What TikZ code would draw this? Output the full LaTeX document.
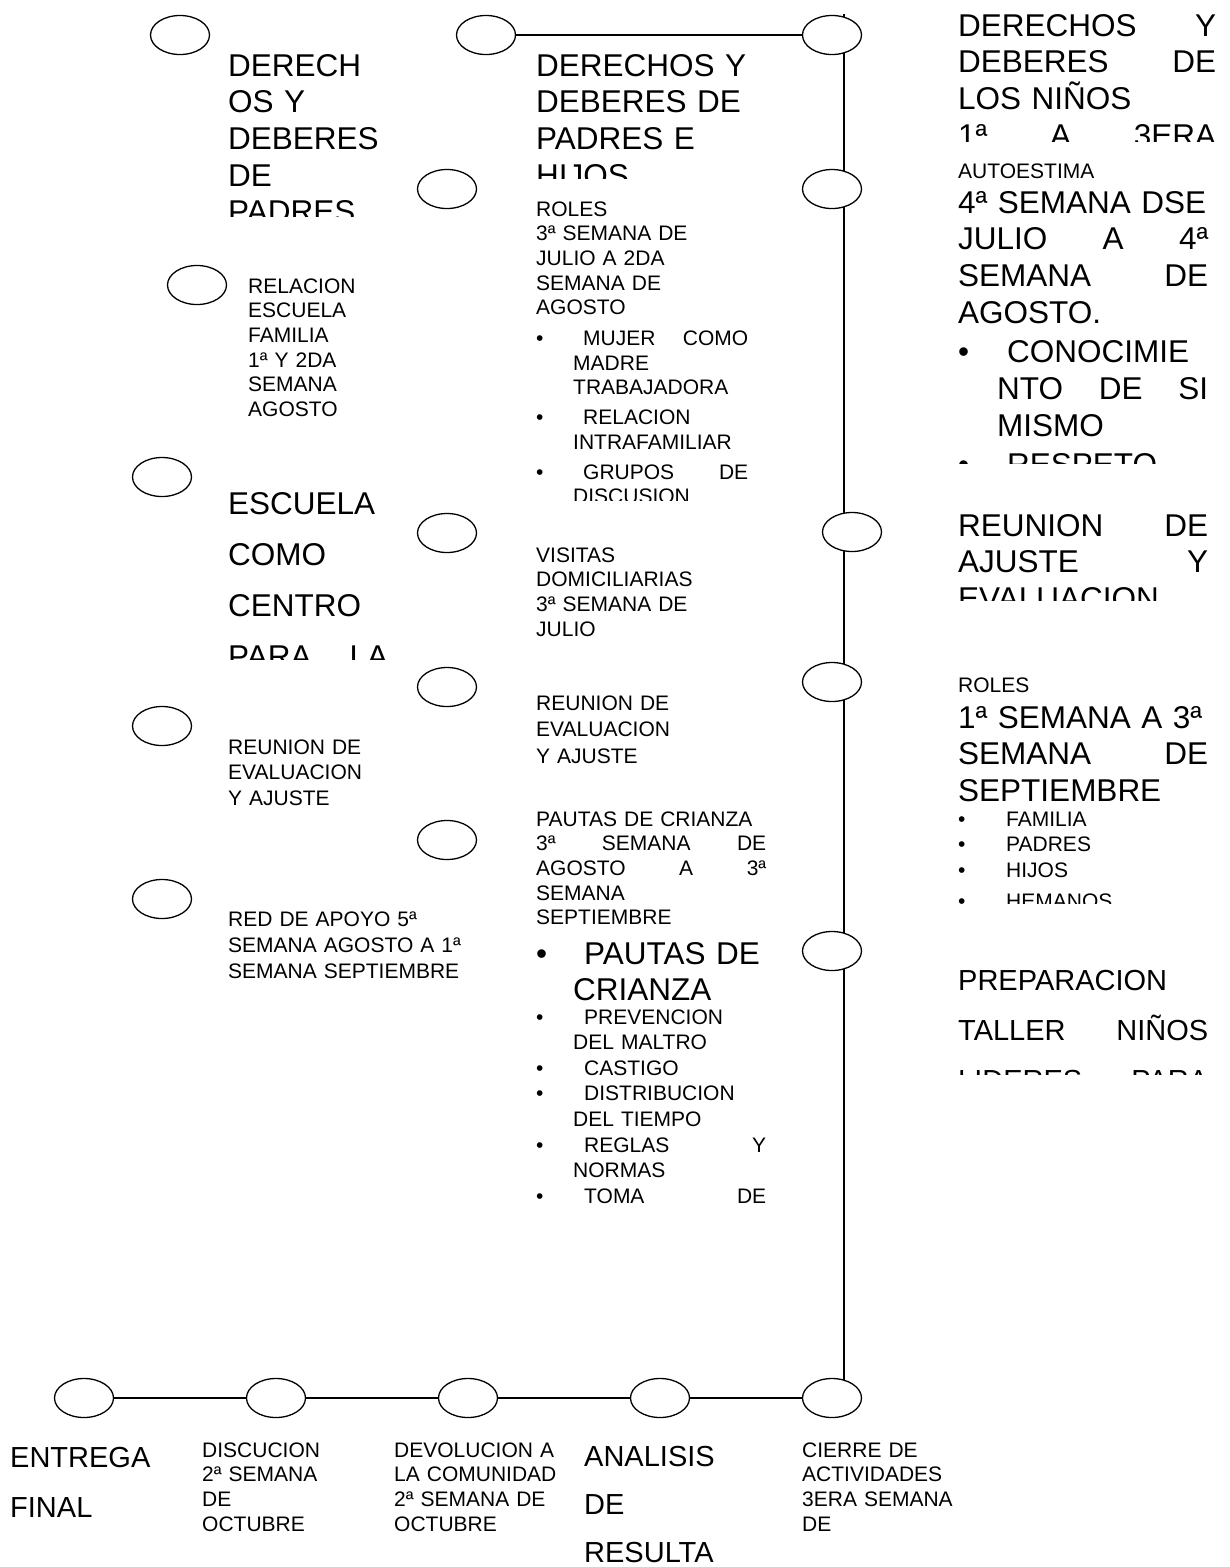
\documentclass[tikz,border=0pt]{standalone}
\usepackage{fontspec}
\setmainfont{Liberation Sans}
\usepackage{tikz}
\usetikzlibrary{shapes.geometric, backgrounds}
\tikzstyle{oval} = [
    ellipse, draw, fill=white,
    line width=1.3pt,
    minimum width=59pt,
    minimum height=39pt,
    inner sep=0pt,
]
\tikzstyle{link} = [line width=1.7pt]
\tikzstyle{txt} = [anchor=base west, inner sep=0pt]
\tikzstyle{smalltext} = [
    txt,
    font={\fontsize{21}{24.7}\selectfont},
]
\tikzstyle{bigtext} = [
    txt,
    font={\fontsize{31.5}{36.7}\selectfont},
]
\tikzstyle{widetext} = [
    txt,
    font={\fontsize{29}{50}\selectfont},
]

\begin{document}
\begin{tikzpicture}[x=1pt, y=-1pt]
    \useasboundingbox (0,0) rectangle (1230,1567);

    % milestones
    \foreach \name/\x/\y in {L1/180/35, L2/197/285, L3/162/477, L4/162/726, L5/162/899,
        M1/486/35, M2/447/189, M3/447/533, M4/447/687, M5/447/840,
        R1/832/35, R2/832/189, R3/852/532, R4/832/682, R5/832/951,
        B1/84/1398, B2/276/1398, B3/468/1398, B4/660/1398, B5/832/1398} {
        \node (\name) at (\x,\y) [oval] {};
    }
    \coordinate (top) at (844,14);

    % lines
    \begin{scope}[on background layer]
        \draw [link] (M1.east) to (R1.west);
        \draw [link] (top) to (top |- B5.center);
        \foreach \x [evaluate=\x as \y using int(\x+1)] in {1,...,4} {
            \draw [link] (B\x.east) to (B\y.west);
        }
    \end{scope}

    % left column
    \begin{scope}
        \clip (220,40) rectangle (420,216);
        \node (padres) at (228,76) [bigtext, text width=200pt] {DERECH\\OS Y\\DEBERES\\DE\\PADRES};
    \end{scope}
    \node (escfam) at (248,293) [smalltext, text width=150pt] {RELACION\\ESCUELA\\FAMILIA\\1ª Y 2DA\\SEMANA\\AGOSTO};
    \begin{scope}
        \clip (220,480) rectangle (420,659);
        \node (centro) at (228,514) [bigtext, text width=160pt, font={\fontsize{31.5}{51}\selectfont}] {ESCUELA\\COMO\\CENTRO\\PARA\hfill LA};
    \end{scope}
    \node (ajusteL) at (228,754) [smalltext, text width=180pt] {REUNION DE\\[1pt]EVALUACION\\[1pt]Y AJUSTE};
    \node (apoyo) at (228,926) [smalltext, text width=260pt] {RED DE APOYO 5ª\\[1.5pt]SEMANA AGOSTO A 1ª\\[1.5pt]SEMANA SEPTIEMBRE};

    % middle column
    \begin{scope}
        \clip (530,40) rectangle (780,178);
        \node (hijos) at (536,76) [bigtext, text width=240pt] {DERECHOS Y\\DEBERES DE\\PADRES E\\HIJOS};
    \end{scope}
    \begin{scope}
        \clip (530,190) rectangle (780,500);
        \node (roles) at (536,216) [smalltext, text width=212pt] {ROLES\\3ª SEMANA DE\\JULIO A 2DA\\SEMANA DE\\AGOSTO\\[6pt]
            \makebox[47pt][l]{•}MUJER\hfill COMO\\
            \hspace*{37pt}MADRE\\
            \hspace*{37pt}TRABAJADORA\\[5pt]
            \makebox[47pt][l]{•}RELACION\\
            \hspace*{37pt}INTRAFAMILIAR\\[5pt]
            \makebox[47pt][l]{•}GRUPOS\hfill DE\\
            \hspace*{37pt}DISCUSION};
    \end{scope}
    \node (visitas) at (536,562) [smalltext, text width=200pt] {VISITAS\\DOMICILIARIAS\\3ª SEMANA DE\\JULIO};
    \node (ajusteM) at (536,710) [smalltext, text width=200pt] {REUNION DE\\[2pt]EVALUACION\\[2pt]Y AJUSTE};
    \node (crianza) at (536,826) [smalltext, text width=230pt] {PAUTAS DE CRIANZA\\3ª\hfill SEMANA\hfill DE\\AGOSTO\hfill A\hfill 3ª\\SEMANA\\SEPTIEMBRE};
    \node (crianzaB) at (536,964) [bigtext, text width=230pt] {\makebox[48pt][l]{•}PAUTAS DE\\\hspace*{37pt}CRIANZA};
    \node (temas) at (536,1024) [smalltext, text width=230pt, font={\fontsize{21}{25.6}\selectfont}] {\makebox[48pt][l]{•}PREVENCION\\
        \hspace*{37pt}DEL MALTRO\\
        \makebox[48pt][l]{•}CASTIGO\\
        \makebox[48pt][l]{•}DISTRIBUCION\\
        \hspace*{37pt}DEL TIEMPO\\
        \makebox[48pt][l]{•}REGLAS\hfill Y\\
        \hspace*{37pt}NORMAS\\
        \makebox[48pt][l]{•}TOMA\hfill DE};

    % right column
    \begin{scope}
        \clip (950,0) rectangle (1230,141);
        \node (ninos) at (958,36) [bigtext, text width=258pt] {DERECHOS\hfill Y\\DEBERES\hfill DE\\LOS NIÑOS\\1ª\hfill A\hfill 3ERA};
    \end{scope}
    \node (autoestima) at (958,178) [smalltext, text width=200pt] {AUTOESTIMA};
    \begin{scope}
        \clip (950,185) rectangle (1230,463);
        \node (respeto) at (958,213) [bigtext, text width=250pt] {4ª SEMANA DSE\\JULIO\hfill A\hfill 4ª\\SEMANA\hfill DE\\AGOSTO.\\[3pt]
            \makebox[49pt][l]{•}CONOCIMIE\\
            \hspace*{39pt}NTO\hfill DE\hfill SI\\
            \hspace*{39pt}MISMO\\[3pt]
            \makebox[49pt][l]{•}RESPETO};
    \end{scope}
    \begin{scope}
        \clip (950,500) rectangle (1230,600);
        \node (ajusteR) at (958,536) [bigtext, text width=250pt] {REUNION\hfill DE\\AJUSTE\hfill Y\\EVALUACION};
    \end{scope}
    \node (rolesR) at (958,692) [smalltext, text width=200pt] {ROLES};
    \node (septiembre) at (958,728) [bigtext, text width=250pt] {1ª SEMANA A 3ª\\SEMANA\hfill DE\\SEPTIEMBRE};
    \begin{scope}
        \clip (950,808) rectangle (1230,903);
        \node (familia) at (958,826) [smalltext, text width=250pt, font={\fontsize{21}{25.5}\selectfont}] {\makebox[48pt][l]{•}FAMILIA\\
            \makebox[48pt][l]{•}PADRES\\
            \makebox[48pt][l]{•}HIJOS\\[6pt]
            \makebox[48pt][l]{•}HEMANOS};
    \end{scope}
    \begin{scope}
        \clip (950,960) rectangle (1230,1074);
        \node (lideres) at (958,990) [widetext, text width=250pt] {PREPARACION\\TALLER\hfill NIÑOS\\LIDERES\hfill PARA};
    \end{scope}

    % bottom row
    \node (final) at (10,1467) [widetext, text width=170pt] {ENTREGA\\FINAL};
    \node (discucion) at (202,1457) [smalltext, text width=150pt] {DISCUCION\\2ª SEMANA\\DE\\OCTUBRE};
    \node (devolucion) at (394,1457) [smalltext, text width=180pt] {DEVOLUCION A\\LA COMUNIDAD\\2ª SEMANA DE\\OCTUBRE};
    \node (analisis) at (584,1466) [widetext, text width=180pt, font={\fontsize{29}{48}\selectfont}] {ANALISIS\\DE\\RESULTA};
    \node (cierre) at (802,1457) [smalltext, text width=170pt] {CIERRE DE\\ACTIVIDADES\\3ERA SEMANA\\DE};

\end{tikzpicture}
\end{document}
